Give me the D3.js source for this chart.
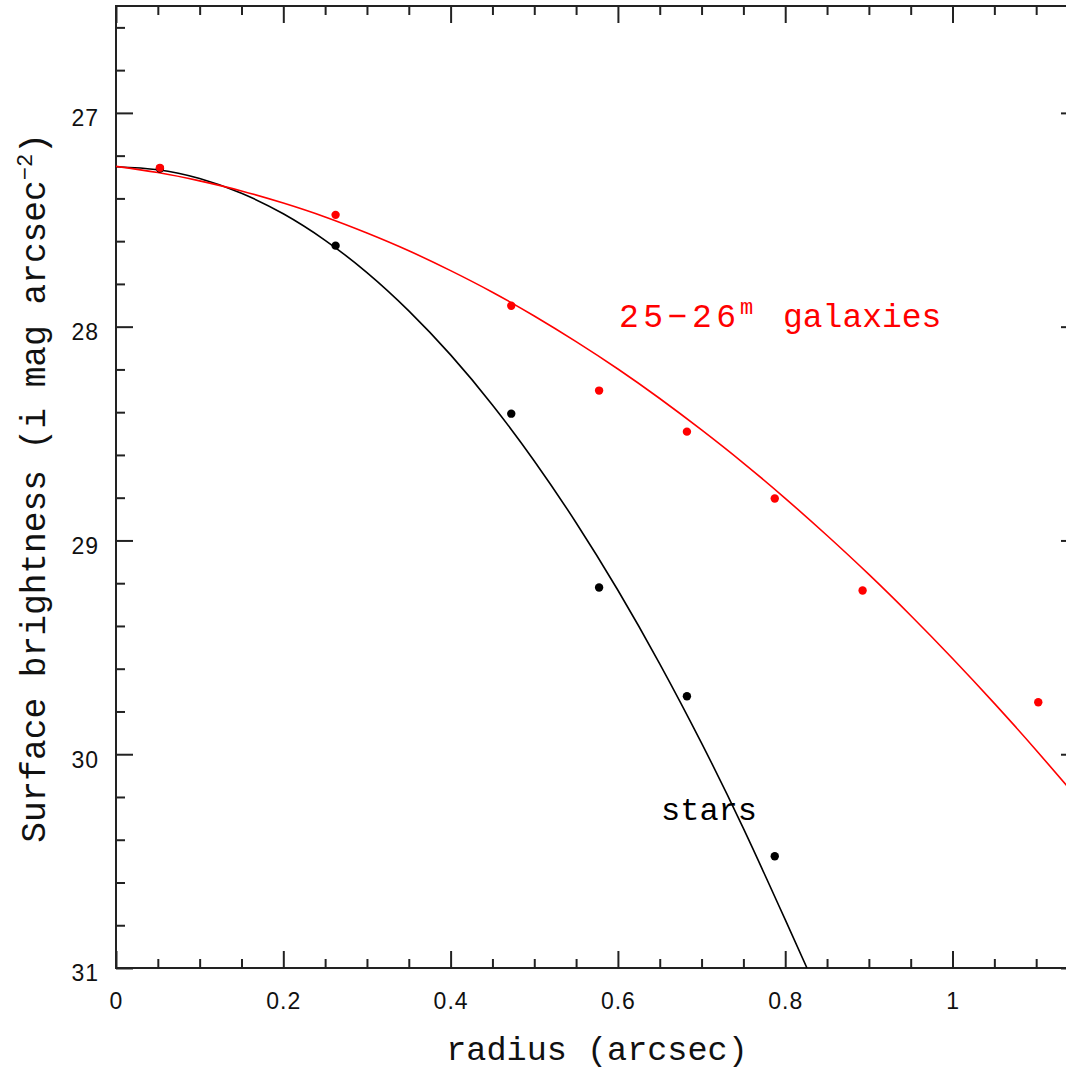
<!DOCTYPE html>
<html>
<head>
<meta charset="utf-8">
<script src="https://cdn.jsdelivr.net/npm/d3@7"></script>
<style>
html,body{margin:0;padding:0;background:#fff;overflow:hidden;}
svg{display:block;}
</style>
</head>
<body>
<svg id="chart" width="1066" height="1070"></svg>
<script>
// ---- data ----
const radiusPts = [0.0525, 0.2625, 0.4725, 0.5775, 0.6825, 0.7875, 0.8925, 1.1025];
const galaxyPts = [27.257, 27.477, 27.902, 28.299, 28.491, 28.804, 29.234, 29.757];
const starRadius = [0.0525, 0.2625, 0.4725, 0.5775, 0.6825, 0.7875];
const starPts = [27.26, 27.621, 28.407, 29.220, 29.729, 30.477];

const starCurveR = [0, 0.05, 0.1, 0.15, 0.2, 0.25, 0.3, 0.35, 0.4, 0.45, 0.5, 0.55, 0.6, 0.65, 0.7, 0.75, 0.8, 0.826];
const starCurveM = [27.252, 27.266, 27.307, 27.376, 27.472, 27.596, 27.747, 27.926, 28.132, 28.366, 28.628, 28.917, 29.233, 29.577, 29.948, 30.347, 30.774, 31.0];
const galCurveR = [0, 0.05, 0.1, 0.15, 0.2, 0.25, 0.3, 0.35, 0.4, 0.45, 0.5, 0.55, 0.6, 0.65, 0.7, 0.75, 0.8, 0.85, 0.9, 0.95, 1.0, 1.05, 1.1, 1.15];
const galCurveM = [27.25, 27.279, 27.318, 27.365, 27.422, 27.487, 27.562, 27.645, 27.738, 27.839, 27.95, 28.07, 28.198, 28.336, 28.483, 28.638, 28.803, 28.977, 29.159, 29.351, 29.552, 29.762, 29.981, 30.208];

const xMajor = [0, 0.2, 0.4, 0.6, 0.8, 1.0];
const xMajorLabels = ["0", "0.2", "0.4", "0.6", "0.8", "1"];
const yMajor = [27, 28, 29, 30, 31];
const yMajorLabels = ["27", "28", "29", "30", "31"];
const xMinor = d3.range(0, 23).map(i => +(i * 0.05).toFixed(2)).filter(v => xMajor.indexOf(v) < 0);
const yMinor = d3.range(0, 23).map(i => +(26.6 + i * 0.2).toFixed(1)).filter(v => v <= 31 && yMajor.indexOf(v) < 0);

// ---- layout ----
const svg = d3.select("#chart");
const L = 116, R = 1078, T = 6, B = 968;
const x = d3.scaleLinear().domain([0, 1.15]).range([L, R]);
const y = d3.scaleLinear().domain([26.5, 31]).range([T, B]);

const axisColor = "#222";
const tickFont = "'Liberation Sans', Arial, sans-serif";
const monoFont = "'Liberation Mono', 'Courier New', monospace";

svg.append("defs").append("clipPath").attr("id", "plotclip")
  .append("rect").attr("x", L).attr("y", T).attr("width", R - L).attr("height", B - T);

function styleAxis(g) {
  g.select(".domain").remove();
  g.selectAll(".tick line").attr("stroke", axisColor).attr("stroke-width", 2);
}

// bottom axis
const gB = svg.append("g").attr("transform", `translate(0,${B})`)
  .call(d3.axisBottom(x).tickValues(xMajor).tickFormat((d, i) => xMajorLabels[i]).tickSize(-17).tickPadding(25));
styleAxis(gB);
gB.selectAll("text").attr("font-family", tickFont).attr("font-size", 23).attr("letter-spacing", 1).attr("fill", "#111");
svg.append("g").attr("transform", `translate(0,${B})`)
  .call(d3.axisBottom(x).tickValues(xMinor).tickFormat("").tickSize(-9)).call(styleAxis);

// top axis
svg.append("g").attr("transform", `translate(0,${T})`)
  .call(d3.axisTop(x).tickValues(xMajor).tickFormat("").tickSize(-17)).call(styleAxis);
svg.append("g").attr("transform", `translate(0,${T})`)
  .call(d3.axisTop(x).tickValues(xMinor).tickFormat("").tickSize(-9)).call(styleAxis);

// left axis
const gL = svg.append("g").attr("transform", `translate(${L},0)`)
  .call(d3.axisLeft(y).tickValues(yMajor).tickFormat((d, i) => yMajorLabels[i]).tickSize(-17).tickPadding(17));
styleAxis(gL);
gL.selectAll("text").attr("font-family", tickFont).attr("font-size", 23).attr("letter-spacing", 1).attr("fill", "#111").attr("dy", "0.56em");
svg.append("g").attr("transform", `translate(${L},0)`)
  .call(d3.axisLeft(y).tickValues(yMinor).tickFormat("").tickSize(-9)).call(styleAxis);

// right axis
svg.append("g").attr("transform", `translate(${R},0)`)
  .call(d3.axisRight(y).tickValues(yMajor).tickFormat("").tickSize(-17)).call(styleAxis);
svg.append("g").attr("transform", `translate(${R},0)`)
  .call(d3.axisRight(y).tickValues(yMinor).tickFormat("").tickSize(-9)).call(styleAxis);

// frame
svg.append("rect").attr("x", L).attr("y", T).attr("width", R - L).attr("height", B - T)
  .attr("fill", "none").attr("stroke", axisColor).attr("stroke-width", 2);

// curves
const line = d3.line().x(d => x(d[0])).y(d => y(d[1])).curve(d3.curveNatural);
const plot = svg.append("g").attr("clip-path", "url(#plotclip)");
plot.append("path").datum(starCurveR.map((r, i) => [r, starCurveM[i]]))
  .attr("d", line).attr("fill", "none").attr("stroke", "#000").attr("stroke-width", 1.6);
plot.append("path").datum(galCurveR.map((r, i) => [r, galCurveM[i]]))
  .attr("d", line).attr("fill", "none").attr("stroke", "#ff0000").attr("stroke-width", 1.6);

// points
plot.selectAll("circle.star").data(starRadius.map((r, i) => [r, starPts[i]])).enter()
  .append("circle").attr("class", "star")
  .attr("cx", d => x(d[0])).attr("cy", d => y(d[1])).attr("r", 4.2).attr("fill", "#000");
plot.selectAll("circle.gal").data(radiusPts.map((r, i) => [r, galaxyPts[i]])).enter()
  .append("circle").attr("class", "gal")
  .attr("cx", d => x(d[0])).attr("cy", d => y(d[1])).attr("r", 4.2).attr("fill", "#ff0000");

// labels
const gl = svg.append("text").attr("x", 619).attr("y", 327)
  .attr("font-family", monoFont).attr("font-size", 33).attr("fill", "#ff0000");
gl.append("tspan").attr("textLength", 117).attr("lengthAdjust", "spacing").text("25\u221226");
gl.append("tspan").attr("x", 740).attr("font-size", 22).attr("dy", -13).text("m");
gl.append("tspan").attr("x", 783).attr("dy", 13).text("galaxies");

svg.append("text").attr("x", 661).attr("y", 820)
  .attr("font-family", monoFont).attr("font-size", 32).attr("fill", "#000").text("stars");

// axis titles
svg.append("text").attr("x", 597).attr("y", 1060).attr("text-anchor", "middle")
  .attr("font-family", monoFont).attr("font-size", 33.5).attr("fill", "#111").text("radius (arcsec)");

const yt = svg.append("text").attr("transform", "translate(45,488) rotate(-90)").attr("text-anchor", "middle")
  .attr("font-family", monoFont).attr("font-size", 34.5).attr("fill", "#111");
yt.append("tspan").text("Surface brightness (i mag arcsec");
yt.append("tspan").attr("font-size", 22).attr("dy", -13).text("\u22122");
yt.append("tspan").attr("dy", 13).text(")");
</script>
</body>
</html>
